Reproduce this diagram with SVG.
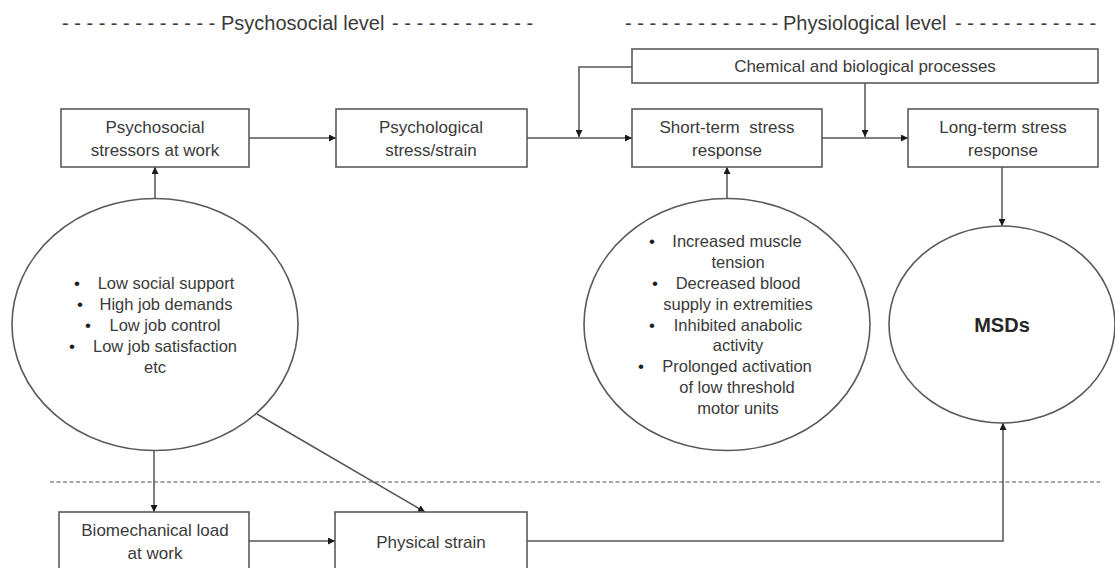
<svg xmlns="http://www.w3.org/2000/svg" width="1115" height="568" viewBox="0 0 1115 568">
<defs>
<style>
text{font-family:"Liberation Sans",Arial,sans-serif;fill:#3a3a3a;}
.hdr{font-size:20px;}
.bx{font-size:17px;text-anchor:middle;}
.ct{font-size:16.5px;text-anchor:middle;}
.bul{font-size:17px;text-anchor:middle;fill:#1e1e1e;}
.box{fill:#fff;stroke:#5a5a5a;stroke-width:1.6;}
.circ{fill:#fff;stroke:#5a5a5a;stroke-width:1.6;}
.con{fill:none;stroke:#555;stroke-width:1.5;marker-end:url(#ah);}
.div{stroke:#8a8a8a;stroke-width:1.6;stroke-dasharray:4 2.5;}
</style>
<marker id="ah" viewBox="0 0 10 10" refX="10" refY="5" markerWidth="7" markerHeight="7" markerUnits="userSpaceOnUse" orient="auto">
<path d="M0,0 L10,5 L0,10 z" fill="#1a1a1a"/>
</marker>
</defs>
<rect width="1115" height="568" fill="#fff"/>

<g id="headers">
<text class="hdr" y="30"><tspan x="62">- - - - - - - - - - - - -</tspan><tspan x="221">Psychosocial level</tspan><tspan x="392">- - - - - - - - - - - -</tspan></text>
<text class="hdr" y="30"><tspan x="625">- - - - - - - - - - - - -</tspan><tspan x="783">Physiological level</tspan><tspan x="955">- - - - - - - - - - - -</tspan></text>
</g>

<line id="divider" class="div" x1="50" y1="482" x2="1100" y2="482"/>

<g id="connectors">
<line class="con" x1="249" y1="138" x2="336" y2="138"/>
<line class="con" x1="527" y1="138" x2="632" y2="138"/>
<polyline class="con" points="632,67 579,67 579,137"/>
<line class="con" x1="822" y1="138" x2="908" y2="138"/>
<line class="con" x1="865" y1="83" x2="865" y2="137"/>
<line class="con" x1="155" y1="199" x2="155" y2="167"/>
<line class="con" x1="727" y1="199" x2="727" y2="167"/>
<line class="con" x1="1002" y1="167" x2="1002" y2="226"/>
<line class="con" x1="154" y1="450" x2="154" y2="512"/>
<line class="con" x1="257" y1="414" x2="425" y2="512"/>
<line class="con" x1="249" y1="541" x2="335" y2="541"/>
<polyline class="con" points="527,541 1003,541 1003,423"/>
</g>

<g id="psychosocial-stressors">
<rect class="box" x="61" y="109" width="188" height="58"/>
<text class="bx" x="155" y="133">Psychosocial</text>
<text class="bx" x="155" y="156">stressors at work</text>
</g>

<g id="psychological-stress">
<rect class="box" x="336" y="109" width="191" height="58"/>
<text class="bx" x="431" y="133">Psychological</text>
<text class="bx" x="431" y="156">stress/strain</text>
</g>

<g id="chemical-processes">
<rect class="box" x="632" y="49" width="466" height="34"/>
<text class="bx" x="865" y="72">Chemical and biological processes</text>
</g>

<g id="short-term">
<rect class="box" x="632" y="109" width="190" height="58"/>
<text class="bx" x="727" y="133" xml:space="preserve">Short-term  stress</text>
<text class="bx" x="727" y="156">response</text>
</g>

<g id="long-term">
<rect class="box" x="908" y="109" width="190" height="58"/>
<text class="bx" x="1003" y="133">Long-term stress</text>
<text class="bx" x="1003" y="156">response</text>
</g>

<g id="psychosocial-factors">
<ellipse class="circ" cx="155" cy="324.5" rx="143" ry="126"/>
<text class="bul" x="77" y="289">•</text>
<text class="ct" x="166" y="289">Low social support</text>
<text class="bul" x="80" y="310">•</text>
<text class="ct" x="166" y="310">High job demands</text>
<text class="bul" x="88" y="331">•</text>
<text class="ct" x="165" y="331">Low job control</text>
<text class="bul" x="72" y="352">•</text>
<text class="ct" x="165" y="352">Low job satisfaction</text>
<text class="ct" x="155" y="373">etc</text>
</g>

<g id="physiological-effects">
<ellipse class="circ" cx="727" cy="324.5" rx="143" ry="126"/>
<text class="bul" x="652" y="247">•</text>
<text class="ct" x="737" y="247">Increased muscle</text>
<text class="ct" x="738" y="268">tension</text>
<text class="bul" x="655" y="289">•</text>
<text class="ct" x="738" y="289">Decreased blood</text>
<text class="ct" x="738" y="310">supply in extremities</text>
<text class="bul" x="652" y="331">•</text>
<text class="ct" x="738" y="331">Inhibited anabolic</text>
<text class="ct" x="738" y="351">activity</text>
<text class="bul" x="641" y="372">•</text>
<text class="ct" x="737" y="372">Prolonged activation</text>
<text class="ct" x="737" y="393">of low threshold</text>
<text class="ct" x="738" y="414">motor units</text>
</g>

<g id="msds">
<ellipse class="circ" cx="1002" cy="324.5" rx="113" ry="98.5"/>
<text x="1002" y="332" style="font-size:20px;font-weight:bold;text-anchor:middle;fill:#262626;">MSDs</text>
</g>

<g id="biomechanical-load">
<rect class="box" x="59" y="512" width="190" height="70"/>
<text class="bx" x="155" y="536">Biomechanical load</text>
<text class="bx" x="155" y="559">at work</text>
</g>

<g id="physical-strain">
<rect class="box" x="335" y="512" width="192" height="70"/>
<text class="bx" x="431" y="548">Physical strain</text>
</g>
</svg>
